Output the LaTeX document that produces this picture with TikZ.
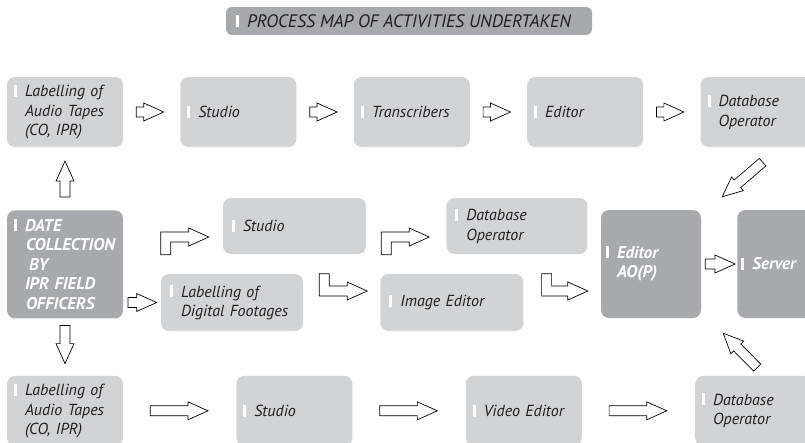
\documentclass[tikz,border=0pt]{standalone}
\usepackage{fontspec}
\setmainfont{PT Sans}
\usetikzlibrary{positioning,calc}

\hyphenpenalty=10000
\exhyphenpenalty=10000

\definecolor{lightbox}{HTML}{D1D3D4}
\definecolor{darkbox}{HTML}{A7A9AC}
\definecolor{ink}{HTML}{231F20}

% small white marker in front of each label
\newcommand{\mk}{\llap{\textcolor{white}{\rule{3pt}{12pt}}\hspace{8pt}}}

% straight hollow arrow between two anchors, from fraction #3 to #4 of the gap
\newcommand{\blockedge}[4]{%
  \coordinate (q0) at ($(#1)!#3!(#2)$);
  \coordinate (q1) at ($(#1)!#4!(#2)$);
  \coordinate (qh) at ($(q1)!20pt!(q0)$);
  \draw[hollow] ($(q0)!5pt!90:(q1)$) -- ($(qh)!5pt!90:(q1)$) -- ($(qh)!9pt!90:(q1)$) -- (q1)
    -- ($(qh)!9pt!-90:(q1)$) -- ($(qh)!5pt!-90:(q1)$) -- ($(q0)!5pt!-90:(q1)$) -- cycle;}

% bent hollow arrow: tail #1, tip #2, #3 = 1 (up, then right) or -1 (down, then right)
\newcommand{\bentedge}[3]{%
  \draw[hollow] ($(#1)+(-5,0)$) -- ($(#1 |- #2)+(-5,{(#3)*5})$) -- ($(#2)+(-20,{(#3)*5})$)
    -- ($(#2)+(-20,{(#3)*9})$) -- (#2) -- ($(#2)+(-20,{-(#3)*9})$) -- ($(#2)+(-20,{-(#3)*5})$)
    -- ($(#1 |- #2)+(5,{-(#3)*5})$) -- ($(#1)+(5,0)$) -- cycle;}

\tikzset{
  activity/.style={rectangle, rounded corners=8pt, fill=lightbox, text=ink, inner xsep=18pt,
    inner ysep=0pt, align=left, font=\itshape\fontsize{16}{19.5}\selectfont},
  office/.style={activity, fill=darkbox, text=white, font=\bfseries\itshape\fontsize{17}{19.5}\selectfont},
  heading/.style={rectangle, rounded corners=6pt, fill=darkbox, text=ink, minimum width=366pt,
    minimum height=28pt, font=\itshape\fontsize{18}{20}\selectfont},
  hollow/.style={draw=black, fill=white, line width=0.7pt, line join=miter},
}

\begin{document}
\begin{tikzpicture}[x=1pt, y=1pt]

\useasboundingbox (0,0) rectangle (805,-442);

% define nodes

\node[heading] (t) at (409,-21) {\mk PROCESS MAP OF ACTIVITIES UNDERTAKEN};

% audio tapes, top row
\node[activity, text width=80pt, minimum height=70pt] (t0) at (65,-112) {\mk Labelling~of\\Audio~Tapes\\(CO,~IPR)};
\node[activity, text width=80pt, minimum height=70pt, right=57pt of t0] (t1) {\mk Studio};
\node[activity, text width=80pt, minimum height=70pt, right=57pt of t1] (t2) {\mk Transcribers};
\node[activity, text width=80pt, minimum height=70pt, right=57pt of t2] (t3) {\mk Editor};
\node[activity, text width=80pt, minimum height=70pt, right=57pt of t3] (t4) {\mk Database\\Operator};

% field officers and digital footages
\node[office, text width=80pt, minimum height=108pt, below=63pt of t0] (m0) {\mk DATE\\\mbox{\hspace{1pt}COLLECTION}\\\mbox{\hspace{4pt}BY}\\\mbox{IPR FIELD}\\\mbox{\hspace{1pt}OFFICERS}};
\node[activity, inner xsep=20pt, text width=103pt, minimum height=56pt] (m1) at (294.5,-226) {\mk Studio};
\node[activity, inner xsep=20pt, text width=101pt, minimum height=56pt, right=80pt of m1] (m2) {\mk Database\\Operator};
\node[activity, inner xsep=20pt, text width=102pt, minimum height=57pt] (m3) at (232,-302.5) {\mk Labelling~of\\Digital~Footages};
\node[activity, inner xsep=20pt, text width=103pt, minimum height=57pt, right=77pt of m3] (m4) {\mk Image~Editor};

\node[office, inner xsep=16pt, text width=68pt, minimum height=108pt] (e0) at (651,-264) {\mk Editor\\AO(P)};
\node[office, inner xsep=15pt, text width=70pt, minimum height=108pt, right=36pt of e0] (s0) {\mk Server};

% audio tapes, bottom row
\node[activity, text width=80pt, minimum height=70pt, below=57pt of m0] (b0) {\mk Labelling~of\\Audio~Tapes\\(CO,~IPR)};
\node[activity, text width=80pt, minimum height=70pt, right=113pt of b0] (b1) {\mk Studio};
\node[activity, text width=80pt, minimum height=70pt, right=113pt of b1] (b2) {\mk Video~Editor};
\node[activity, text width=80pt, minimum height=70pt, right=113pt of b2] (b3) {\mk Database\\Operator};

\coordinate (d0) at ($(t4.south)+(4,-15)$);
\coordinate (d1) at ($(e0.north east)+(21,13)$);
\coordinate (d2) at ($(b3.north)+(4,8)$);
\coordinate (d3) at ($(e0.south east)+(22,-15)$);

\coordinate (k0) at ($(m3.north west)+(5,19)$);
\coordinate (k1) at ($(m1.west)+(-14,-11)$);
\coordinate (k2) at ($(m4.north west)+(6,19)$);
\coordinate (k3) at ($(m2.west)+(-17,-11)$);
\coordinate (k4) at ($(m3.north east)+(21,0)$);
\coordinate (k5) at ($(m4.west)+(-13,11.5)$);
\coordinate (k6) at ($(m4.north east)+(23,0)$);
\coordinate (k7) at ($(e0.west)+(-13,-27)$);

% edges

\blockedge{t0.east}{t1.west}{0.23}{0.71}
\blockedge{t1.east}{t2.west}{0.23}{0.71}
\blockedge{t2.east}{t3.west}{0.23}{0.71}
\blockedge{t3.east}{t4.west}{0.23}{0.71}

\blockedge{m0.north}{t0.south}{0.21}{0.78}
\blockedge{m0.south}{b0.north}{0.12}{0.79}
\blockedge{m0.east |- m3.west}{m3.west}{0.13}{0.89}
\blockedge{e0.east}{s0.west}{0.11}{0.94}

\blockedge{b0.east}{b1.west}{0.24}{0.75}
\blockedge{b1.east}{b2.west}{0.24}{0.75}
\blockedge{b2.east}{b3.west}{0.24}{0.75}

\blockedge{d0}{d1}{0}{1}
\blockedge{d2}{d3}{0}{1}

\bentedge{k0}{k1}{1}
\bentedge{k2}{k3}{1}
\bentedge{k4}{k5}{-1}
\bentedge{k6}{k7}{-1}

\end{tikzpicture}
\end{document}
